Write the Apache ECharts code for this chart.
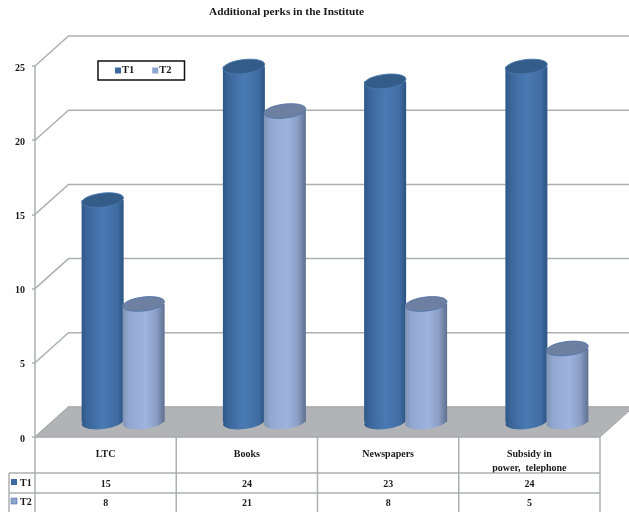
<!DOCTYPE html>
<html><head><meta charset="utf-8">
<style>html,body{margin:0;padding:0;background:#fff;overflow:hidden}#c{width:629px;height:512px}</style>
<script src="https://cdn.jsdelivr.net/npm/echarts@6/dist/echarts.min.js"></script>
</head><body><div id="c"></div>
<script>
const categories = ['LTC', 'Books', 'Newspapers', 'Subsidy in\npower,  telephone'];
const t1 = [15, 24, 23, 24];
const t2 = [8, 21, 8, 5];
const yTicks = [0, 5, 10, 15, 20, 25];

const FONT = 'bold 10px "Liberation Serif"';
const GRID = '#adafb1';
const DX = 33.5, DY = -30;

function grad(stops){
  return {type:'linear',x:0,y:0,x2:1,y2:0,colorStops:stops.map(s=>({offset:s[0],color:s[1]}))};
}
const styles = {
  T1:{body:grad([[0,'#2f5787'],[0.12,'#3a659a'],[0.5,'#4a7ab3'],[0.85,'#3f6ca2'],[1,'#2c5381']]),top:'#345c88',edge:'#4a79ae'},
  T2:{body:grad([[0,'#7f93b5'],[0.15,'#92a8d0'],[0.55,'#9eb4de'],[0.8,'#8b9ec4'],[1,'#5f7090']]),top:'#6d80a1',edge:'#4f74a8'}
};

function cylinder(name, off){
  const st = styles[name];
  return function(params, api){
    const cat = api.value(0), v = api.value(1);
    const a = api.coord([cat, 0]), b = api.coord([cat, v]);
    const cx = a[0] + 17 + off, rx = 21, ry = 7;
    const y0 = a[1] - 15, y1 = b[1] - 14.3;
    const rot = 0.12;
    return {type:'group',children:[
      {type:'ellipse',shape:{cx:cx,cy:y0,rx:rx,ry:ry},rotation:rot,originX:cx,originY:y0,style:{fill:st.body}},
      {type:'rect',shape:{x:cx-rx,y:y1,width:rx*2,height:y0-y1},style:{fill:st.body}},
      {type:'ellipse',shape:{cx:cx,cy:y1,rx:rx,ry:ry},rotation:rot,originX:cx,originY:y1,style:{fill:st.top,stroke:st.edge,lineWidth:0.8}}
    ]};
  };
}

const txt = (t,x,y,al)=>({type:'text',style:{text:String(t),x:x,y:y,textAlign:al||'center',textVerticalAlign:'middle',font:FONT,fill:'#1a1a1a'}});
const ln = (x1,y1,x2,y2,c,w)=>({type:'line',shape:{x1,y1,x2,y2},style:{stroke:c||GRID,lineWidth:w||1.5}});

const chart = echarts.init(document.getElementById('c'), null, {renderer:'canvas'});
chart.setOption({
  backgroundColor:'#fff',
  animation:false,
  title:{text:'Additional perks in the Institute',left:204,top:2,
    textStyle:{fontFamily:'Liberation Serif',fontWeight:'bold',fontSize:11.3,color:'#1a1a1a'}},
  legend:{left:98,top:61,selectedMode:false,data:['T1','T2'],icon:'rect',itemWidth:6,itemHeight:6,itemGap:18,
    padding:[4,13,4,17],borderColor:'#111',borderWidth:1.5,backgroundColor:'#fff',
    textStyle:{fontFamily:'Liberation Serif',fontWeight:'bold',fontSize:10.5,color:'#1a1a1a',padding:[0,0,0,-4]}},
  grid:{left:35,right:29,top:66,bottom:75,containLabel:false},
  xAxis:{type:'category',data:categories,axisLine:{show:false},axisTick:{show:false},splitLine:{show:false},
    axisLabel:{interval:0,margin:10,verticalAlign:'top',lineHeight:14,fontFamily:'Liberation Serif',fontWeight:'bold',fontSize:10,color:'#1a1a1a'}},
  yAxis:{type:'value',min:0,max:25,interval:5,splitLine:{show:false},
    axisLine:{show:true,lineStyle:{color:GRID,width:1.5}},
    axisTick:{show:true,length:3,lineStyle:{color:GRID,width:1.5}},
    axisLabel:{margin:10,verticalAlign:'top',lineHeight:4,fontFamily:'Liberation Serif',fontWeight:'bold',fontSize:10,color:'#1a1a1a'}},
  series:[
    {type:'custom',name:'wall',silent:true,z:1,data:yTicks.map(v=>[0,v]),
     renderItem(params,api){
       const p=api.coord([0,api.value(1)]), g=params.coordSys, L=g.x, R=g.x+g.width;
       const kids=[
         {type:'polyline',shape:{points:[[L,p[1]],[L+DX,p[1]+DY],[R+DX,p[1]+DY]]},style:{fill:'none',stroke:GRID,lineWidth:1.5}}
       ];
       if(api.value(1)===0){
         kids.unshift({type:'polygon',shape:{points:[[L,p[1]],[L+DX,p[1]+DY],[R+DX,p[1]+DY],[R,p[1]]]},style:{fill:'#b1b3b6',stroke:'#a4a6a9',lineWidth:1}});
       }
       return {type:'group',children:kids};
     }},
    {type:'custom',name:'T1',z:3,itemStyle:{color:'#3c6a9f'},data:t1.map((v,i)=>[i,v]),renderItem:cylinder('T1',-20)},
    {type:'custom',name:'T2',z:4,itemStyle:{color:'#8ea5cf'},data:t2.map((v,i)=>[i,v]),renderItem:cylinder('T2',21)},
    {type:'custom',name:'table',silent:true,z:2,data:categories.map((c,i)=>[i,0]),
     renderItem(params,api){
       const i=api.value(0), p=api.coord([i,0]), g=params.coordSys, y0=p[1];
       const w=g.width/categories.length, L=g.x, R=g.x+g.width;
       const rowA=y0+36, rowB=y0+56, rowC=512;
       const kids=[
         ln(L+i*w,y0,L+i*w,rowC),
         txt(t1[i],p[0],y0+47),
         txt(t2[i],p[0],y0+66)
       ];
       if(i===categories.length-1){
         kids.push(ln(R,y0,R,rowC),ln(L,y0,R,y0),
           ln(9,rowA,R,rowA),ln(9,rowB,R,rowB),ln(9,rowA,9,rowC),
           {type:'rect',shape:{x:11,y:y0+42,width:6,height:6},style:{fill:'#3c6a9f'}},
           {type:'rect',shape:{x:11,y:y0+61,width:6,height:6},style:{fill:'#8ea5cf',stroke:'#4f74a8',lineWidth:0.6}},
           txt('T1',20,y0+46,'left'),txt('T2',20,y0+65,'left'));
       }
       return {type:'group',children:kids};
     }}
  ]
});
</script></body></html>
